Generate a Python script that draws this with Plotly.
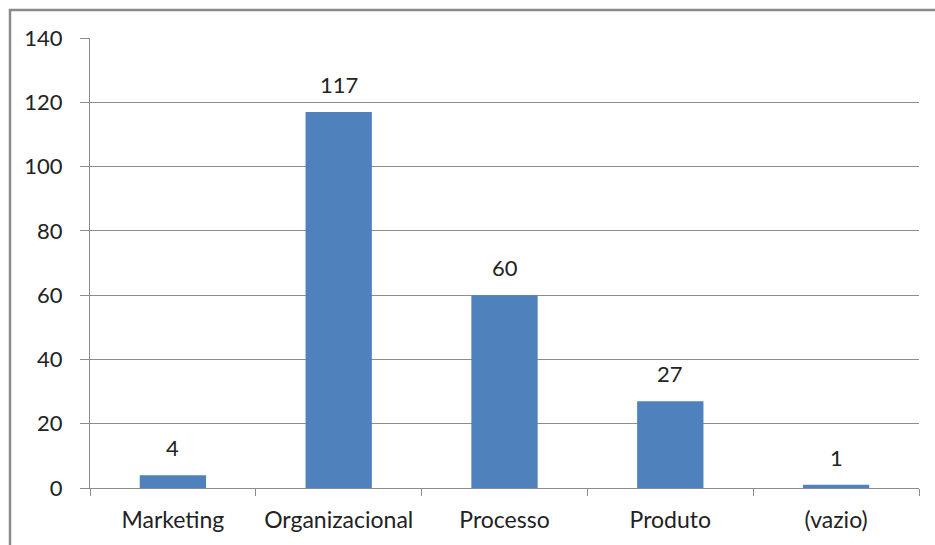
import plotly.graph_objects as go

categories = ["Marketing", "Organizacional", "Processo", "Produto", "(vazio)"]
values = [4, 117, 60, 27, 1]
y_ticks = [0, 20, 40, 60, 80, 100, 120, 140]

W, H = 935, 545
ml, mr, mt, mb = 90, 16, 38, 57
pw, ph = W - ml - mr, H - mt - mb

font_family = "Lato, Open Sans, sans-serif"
txt_col = "#222222"
grid_col = "#8c8c8c"
fsize = 22

fig = go.Figure(go.Bar(
    x=categories, y=values,
    marker=dict(color="#4f81bd", line=dict(width=0)),
    width=0.4,
    cliponaxis=False,
))

# value labels above each bar
for c, v in zip(categories, values):
    fig.add_annotation(x=c, y=v, text=str(v), showarrow=False,
                       yanchor="bottom", yshift=12,
                       font=dict(family=font_family, size=fsize, color=txt_col))

# outer chart frame (only top and left edges fall inside the page)
fig.add_shape(type="rect", xref="paper", yref="paper",
              x0=(10 - ml) / pw, x1=1.5,
              y0=-0.5, y1=1 + (mt - 10) / ph,
              line=dict(color="#8a8a8a", width=2.5), layer="below")

fig.update_layout(
    width=W, height=H,
    margin=dict(l=ml, r=mr, t=mt, b=mb),
    plot_bgcolor="white", paper_bgcolor="white",
    showlegend=False,
    bargap=0.6,
    font=dict(family=font_family, size=fsize, color=txt_col),
    xaxis=dict(
        type="category",
        tickson="boundaries",
        ticks="outside", ticklen=7, tickcolor=grid_col, tickwidth=1,
        showline=True, linecolor=grid_col, linewidth=1,
        showgrid=False,
        tickfont=dict(family=font_family, size=23, color=txt_col),
        ticklabelstandoff=11,
    ),
    yaxis=dict(
        range=[0, 140],
        tickvals=y_ticks,
        ticks="outside", ticklen=9, tickcolor=grid_col, tickwidth=1,
        showline=True, linecolor=grid_col, linewidth=1,
        showgrid=True, gridcolor=grid_col, gridwidth=1,
        zeroline=False,
        tickfont=dict(family=font_family, size=fsize, color=txt_col),
        ticklabelstandoff=13,
    ),
)

fig.write_html("out.html")
